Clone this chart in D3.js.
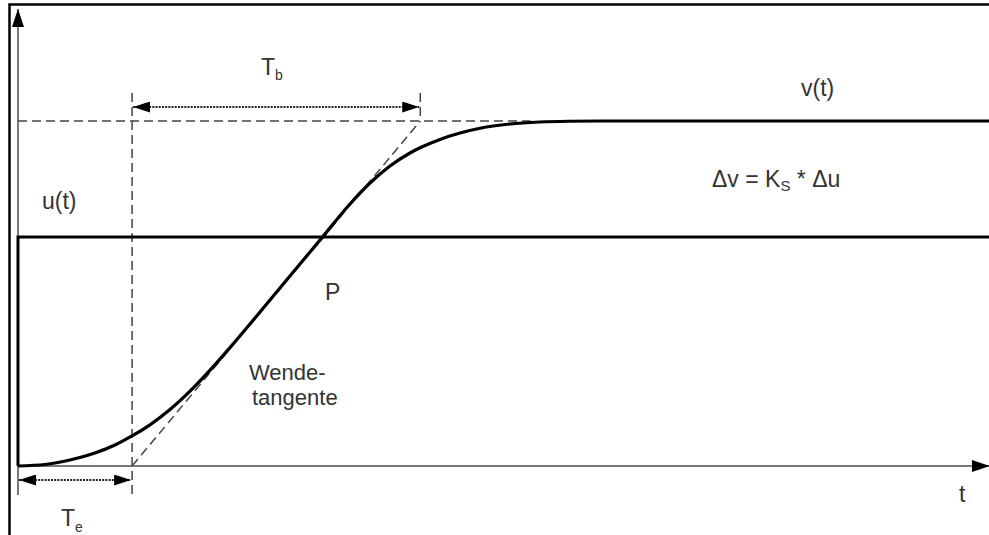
<!DOCTYPE html>
<html><head><meta charset="utf-8">
<script src="https://cdn.jsdelivr.net/npm/d3@7"></script>
<style>html,body{margin:0;padding:0;background:#fff;}svg{display:block;}</style>
</head><body>
<script>
// Data (time units, normalized output)
const curveTime  = [0, 0.279, 0.538, 0.796, 1.003, 1.179, 1.365, 1.572, 1.779, 1.986, 2.192, 2.399, 2.709, 2.916, 3.144, 3.433, 3.640, 3.847, 4.054, 4.157, 4.364, 4.571, 4.778, 5.088, 5.398, 5.708, 6.019, 10.2];
const curveValue = [0, 0.0043, 0.0174, 0.0377, 0.0609, 0.0870, 0.1194, 0.1635, 0.2168, 0.2777, 0.3432, 0.4116, 0.5159, 0.5855, 0.6620, 0.7594, 0.8203, 0.8696, 0.9072, 0.9223, 0.9467, 0.9652, 0.9791, 0.9913, 0.9971, 0.9993, 1.0, 1.0];
const stepTime   = [0, 0, 10.2];
const stepValue  = [0, 0.664, 0.664];
const Te = 1.18;          // Verzugszeit end
const TbEnd = 4.16;       // tangent reaches final value
const labels = {u: "u(t)", v: "v(t)", t: "t", P: "P", w1: "Wende-", w2: "tangente"};

const W = 989, H = 535;
const svg = d3.select("body").append("svg").attr("width", W).attr("height", H);
const x = d3.scaleLinear().domain([0, 10]).range([18, 985]);
const y = d3.scaleLinear().domain([0, 1]).range([466, 121]);

const defs = svg.append("defs");
defs.append("marker").attr("id", "big").attr("viewBox", "0 0 18 12")
  .attr("refX", 18).attr("refY", 6).attr("markerWidth", 18).attr("markerHeight", 12)
  .attr("markerUnits", "userSpaceOnUse").attr("orient", "auto")
  .append("path").attr("d", "M0,0 L18,6 L0,12 Z").attr("fill", "#000");
defs.append("marker").attr("id", "dim").attr("viewBox", "0 0 17 11")
  .attr("refX", 17).attr("refY", 5.5).attr("markerWidth", 17).attr("markerHeight", 11)
  .attr("markerUnits", "userSpaceOnUse").attr("orient", "auto-start-reverse")
  .append("path").attr("d", "M0,0 L17,5.5 L0,11 Z").attr("fill", "#000");

// frame
svg.append("rect").attr("x", 9.5).attr("y", 4.5).attr("width", 1100).attr("height", 700)
  .attr("fill", "none").attr("stroke", "#000").attr("stroke-width", 2.5);

// axes
svg.append("line").attr("x1", x(0)).attr("y1", 495).attr("x2", x(0)).attr("y2", y(1.325))
  .attr("stroke", "#7a7a7a").attr("stroke-width", 2).attr("marker-end", "url(#big)");
svg.append("line").attr("x1", x(0)).attr("y1", y(0)).attr("x2", x(10.05)).attr("y2", y(0))
  .attr("stroke", "#7a7a7a").attr("stroke-width", 2).attr("marker-end", "url(#big)");

// dashed helper lines
const dash = g => g.attr("stroke", "#444").attr("stroke-width", 1.5).attr("stroke-dasharray", "9,5").attr("fill", "none");
svg.append("line").attr("x1", x(0)).attr("y1", y(1)).attr("x2", x(5.3)).attr("y2", y(1)).call(dash);
svg.append("line").attr("x1", x(Te)).attr("y1", 93).attr("x2", x(Te)).attr("y2", 496).call(dash);
svg.append("line").attr("x1", x(TbEnd)).attr("y1", 93).attr("x2", x(TbEnd)).attr("y2", y(1)).call(dash);
svg.append("line").attr("x1", x(Te)).attr("y1", y(0)).attr("x2", x(TbEnd)).attr("y2", y(1)).call(dash);

// dimension arrows
const dot = g => g.attr("stroke", "#222").attr("stroke-width", 1.8).attr("stroke-dasharray", "2,1.2")
  .attr("marker-start", "url(#dim)").attr("marker-end", "url(#dim)");
svg.append("line").attr("x1", x(Te) + 1).attr("y1", 107).attr("x2", x(TbEnd) - 1).attr("y2", 107).call(dot);
svg.append("line").attr("x1", x(0) + 1).attr("y1", 480).attr("x2", x(Te) - 1).attr("y2", 480).call(dot);

// input step u(t)
const line = d3.line().x(d => x(d[0])).y(d => y(d[1]));
svg.append("path").datum(stepTime.map((t, i) => [t, stepValue[i]]))
  .attr("d", line).attr("fill", "none").attr("stroke", "#000").attr("stroke-width", 3);

// response v(t)
const cl = d3.line().x(d => x(d[0])).y(d => y(d[1])).curve(d3.curveMonotoneX);
svg.append("path").datum(curveTime.map((t, i) => [t, curveValue[i]]))
  .attr("d", cl).attr("fill", "none").attr("stroke", "#000").attr("stroke-width", 3.2);

// labels
const txt = (xx, yy, s, fs = 23) => svg.append("text").attr("x", xx).attr("y", yy)
  .attr("font-family", "Liberation Sans, Arial, sans-serif").attr("font-size", fs).attr("fill", "#333").text(s);
txt(42, 209, labels.u);
txt(801, 96, labels.v);
txt(959, 502, labels.t);
txt(325, 300, labels.P);
txt(249, 380, labels.w1, 22);
txt(252, 405, labels.w2, 22);

const tb = txt(261, 75, "T");
tb.append("tspan").attr("font-size", 14).attr("dy", 5).text("b");
const te = txt(61, 526, "T");
te.append("tspan").attr("font-size", 14).attr("dy", 6).text("e");
const dv = txt(712, 187, "\u0394v = K");
dv.append("tspan").attr("font-size", 15).attr("dy", 4).text("S");
dv.append("tspan").attr("dy", -4).text(" * \u0394u");
</script>
</body></html>
